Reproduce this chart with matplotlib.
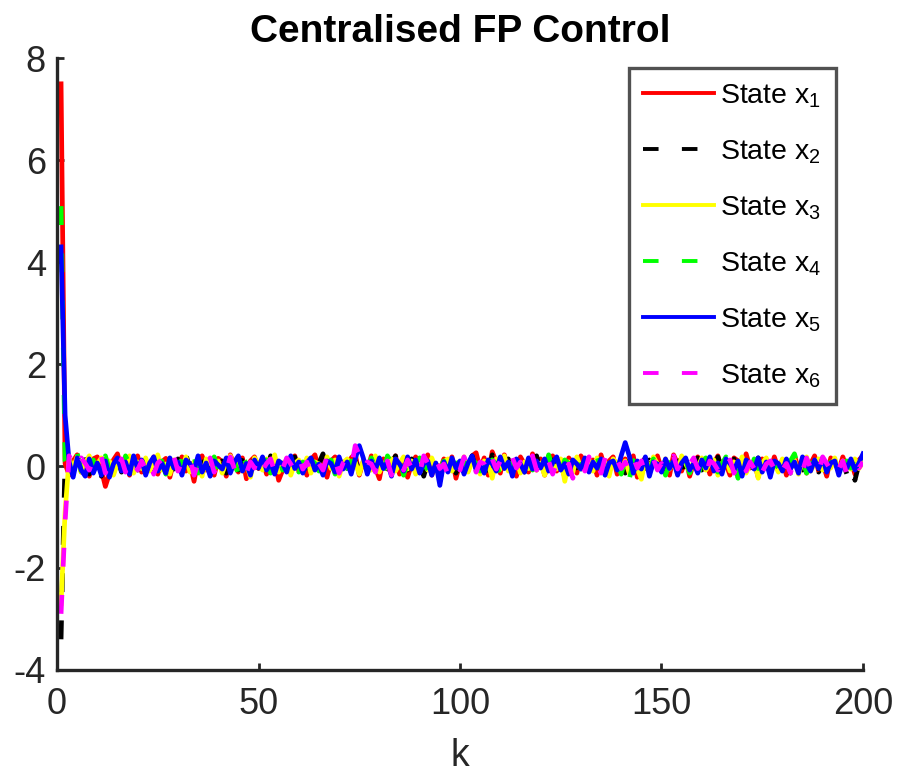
import numpy as np
import matplotlib
matplotlib.use('Agg')
import matplotlib.pyplot as plt

# 各状态的轨迹（k = 1..200）
x1 = [7.50, 0.05, -0.18, 0.10, 0.22, -0.12, 0.06, -0.20, 0.14, 0.18, -0.08, -0.40, -0.15, 0.12, 0.24, -0.06, 0.16, -0.18, 0.04, 0.20,
      -0.12, 0.10, -0.05, 0.18, -0.16, 0.08, 0.15, -0.22, 0.10, -0.06, 0.18, -0.10, 0.05, -0.30, 0.12, 0.20, -0.08, 0.06, -0.18, 0.15,
      0.08, -0.20, 0.22, 0.02, -0.12, 0.16, -0.25, 0.10, 0.18, -0.05, 0.12, -0.16, 0.04, 0.10, -0.28, -0.08, 0.14, -0.04, 0.20, -0.10,
      0.06, -0.18, 0.12, 0.22, -0.08, 0.04, -0.22, 0.10, 0.18, -0.14, 0.08, -0.05, 0.16, 0.24, -0.18, 0.10, -0.10, 0.20, -0.04, -0.25,
      0.14, -0.06, 0.05, 0.20, -0.16, 0.10, -0.22, 0.04, 0.18, -0.12, 0.08, 0.22, -0.18, 0.05, -0.08, 0.14, -0.04, 0.18, -0.24, 0.06,
      0.12, -0.10, 0.20, 0.26, -0.06, 0.16, -0.18, 0.28, 0.08, -0.14, 0.22, -0.05, 0.10, -0.20, 0.18, 0.04, -0.12, 0.24, -0.08, 0.14,
      -0.18, 0.06, 0.20, -0.10, 0.05, -0.22, 0.16, 0.04, -0.14, 0.20, 0.08, -0.05, 0.12, -0.18, 0.22, -0.04, 0.10, 0.18, -0.16, 0.05,
      0.14, -0.08, 0.20, -0.22, 0.06, 0.16, -0.12, 0.04, 0.20, -0.06, 0.10, -0.18, 0.22, 0.05, -0.10, 0.14, -0.20, 0.08, 0.18, -0.05,
      0.12, -0.16, 0.06, 0.20, -0.08, 0.04, -0.18, 0.16, 0.10, -0.12, 0.24, -0.04, 0.08, -0.22, 0.14, 0.05, -0.10, 0.18, -0.06, 0.12,
      -0.18, 0.08, 0.20, -0.05, 0.14, -0.14, 0.04, 0.20, -0.10, 0.06, -0.20, 0.16, 0.05, -0.08, 0.18, -0.04, 0.10, -0.16, 0.12, 0.20]

x2 = [-3.40, 0.18, 0.06, -0.10, 0.14, -0.04, 0.20, -0.16, 0.08, 0.05, -0.20, 0.12, -0.06, 0.04, 0.16, -0.12, 0.10, -0.05, 0.18, -0.08,
      0.06, 0.22, -0.14, 0.05, 0.10, -0.18, 0.08, 0.02, -0.06, 0.14, -0.10, 0.22, -0.04, 0.08, -0.16, 0.12, 0.04, -0.08, 0.18, -0.05,
      0.10, -0.14, 0.26, 0.05, -0.08, 0.16, -0.20, 0.06, 0.12, -0.04, 0.08, -0.12, 0.20, 0.04, -0.10, 0.14, -0.06, 0.05, 0.18, -0.16,
      0.08, -0.04, 0.14, -0.20, 0.06, 0.24, -0.10, 0.04, 0.16, -0.08, 0.12, -0.18, 0.05, 0.10, -0.06, 0.20, -0.14, 0.08, 0.02, -0.05,
      0.16, -0.10, 0.06, 0.20, -0.12, 0.05, -0.08, 0.14, -0.04, 0.10, -0.20, 0.08, 0.18, -0.06, -0.30, 0.12, -0.05, 0.16, -0.14, 0.06,
      0.04, -0.10, 0.20, -0.05, 0.12, 0.06, -0.16, 0.22, -0.08, 0.10, -0.04, 0.14, -0.18, 0.08, 0.05, -0.12, 0.16, -0.06, 0.20, -0.10,
      0.06, -0.14, 0.12, 0.04, -0.08, 0.18, -0.05, 0.10, -0.16, 0.08, 0.14, -0.06, 0.05, -0.12, 0.20, 0.04, -0.10, 0.16, -0.04, 0.08,
      -0.14, 0.10, 0.05, -0.08, 0.18, -0.05, 0.12, -0.16, 0.06, 0.04, -0.10, 0.22, -0.06, 0.08, 0.14, -0.12, 0.05, -0.04, 0.16, -0.08,
      0.10, 0.05, -0.14, 0.18, -0.06, 0.08, -0.04, 0.14, -0.18, 0.06, 0.12, -0.08, 0.04, 0.16, -0.10, 0.20, -0.05, 0.08, 0.24, -0.06,
      0.12, -0.14, 0.05, 0.18, -0.08, 0.10, -0.04, 0.16, -0.12, 0.06, 0.04, -0.10, 0.14, -0.05, 0.08, -0.16, 0.06, -0.28, 0.04, 0.20]

x3 = [-2.70, -0.90, 0.14, -0.04, 0.18, -0.12, 0.06, 0.20, -0.10, 0.04, 0.16, -0.06, 0.10, -0.18, 0.05, 0.12, -0.04, 0.20, -0.14, 0.08,
      -0.05, 0.16, -0.10, 0.06, 0.22, -0.08, 0.04, -0.16, 0.12, 0.05, -0.06, 0.18, -0.12, 0.08, 0.02, -0.20, 0.14, 0.06, -0.05, 0.10,
      -0.14, 0.08, 0.20, -0.04, 0.12, -0.10, 0.05, -0.22, 0.16, 0.04, -0.08, 0.14, -0.05, 0.22, -0.12, 0.06, 0.10, -0.18, 0.05, 0.12,
      -0.06, 0.16, -0.14, 0.08, 0.04, -0.10, 0.18, -0.05, 0.12, -0.20, 0.06, 0.14, -0.04, 0.08, -0.16, 0.10, 0.05, -0.08, 0.20, -0.12,
      0.06, -0.04, 0.14, -0.10, 0.05, 0.18, -0.06, 0.10, -0.16, 0.04, 0.12, -0.08, 0.16, -0.05, -0.22, 0.08, 0.14, -0.10, 0.06, -0.04,
      0.18, -0.12, 0.08, 0.05, -0.16, 0.10, 0.04, -0.24, 0.14, -0.06, 0.20, -0.10, 0.05, 0.12, -0.14, 0.08, -0.05, 0.16, -0.08, 0.06,
      -0.18, 0.10, 0.04, -0.06, 0.14, -0.30, 0.08, -0.12, 0.18, -0.04, 0.06, 0.12, -0.10, 0.16, -0.05, 0.08, -0.20, 0.14, 0.05, -0.08,
      0.10, -0.14, 0.06, -0.05, -0.26, 0.12, -0.08, 0.18, 0.04, -0.10, 0.14, -0.06, 0.08, -0.16, 0.20, 0.05, -0.12, 0.10, -0.04, 0.16,
      -0.08, 0.06, 0.12, -0.18, 0.05, 0.14, -0.10, 0.08, -0.05, 0.18, -0.14, 0.04, 0.10, -0.24, 0.06, 0.16, -0.08, 0.05, -0.12, 0.14,
      0.04, -0.06, 0.12, -0.16, 0.08, 0.18, -0.10, 0.05, 0.14, -0.08, 0.06, -0.04, 0.16, -0.12, 0.10, 0.05, -0.06, 0.14, -0.05, 0.08]

x4 = [5.10, 0.10, -0.06, 0.16, 0.26, -0.10, 0.22, -0.05, 0.12, -0.18, 0.08, 0.20, -0.08, 0.05, 0.14, -0.14, 0.20, 0.04, -0.06, 0.10,
      0.16, -0.12, 0.06, 0.18, -0.05, 0.10, -0.16, 0.22, 0.04, -0.08, 0.14, -0.04, 0.08, 0.20, -0.14, 0.05, 0.12, -0.06, 0.18, -0.10,
      0.06, 0.14, -0.05, 0.10, -0.18, 0.20, 0.04, -0.10, 0.16, -0.06, 0.08, 0.12, -0.14, 0.05, 0.20, -0.08, 0.10, -0.04, 0.16, -0.12,
      0.08, -0.20, 0.14, 0.05, -0.10, 0.18, -0.06, 0.12, -0.16, 0.06, 0.20, -0.05, 0.10, -0.14, 0.08, 0.04, -0.08, 0.16, -0.04, 0.10,
      -0.12, 0.20, 0.06, -0.06, 0.14, -0.18, 0.08, 0.04, -0.10, 0.16, 0.05, -0.08, 0.12, 0.22, -0.05, 0.10, -0.14, 0.06, 0.18, -0.04,
      0.08, -0.16, 0.14, 0.05, -0.10, 0.20, -0.06, 0.12, 0.04, -0.20, 0.10, 0.16, -0.05, 0.08, -0.12, 0.06, 0.18, -0.08, 0.05, 0.14,
      -0.10, 0.22, -0.04, 0.08, -0.14, 0.12, 0.05, -0.18, 0.16, -0.06, 0.10, 0.04, -0.12, 0.18, -0.05, 0.08, 0.14, -0.10, 0.06, -0.16,
      0.12, -0.26, 0.08, 0.18, -0.06, 0.05, -0.12, 0.14, -0.04, 0.10, -0.18, 0.06, 0.16, -0.08, 0.04, 0.12, -0.14, 0.08, -0.20, 0.05,
      0.16, -0.06, 0.10, -0.12, 0.04, 0.18, -0.08, 0.06, -0.24, 0.12, 0.05, -0.10, 0.14, -0.05, 0.08, 0.20, -0.12, 0.06, -0.04, 0.16,
      -0.08, 0.10, 0.24, -0.05, 0.12, -0.14, 0.06, 0.04, -0.10, 0.18, -0.06, 0.08, 0.14, -0.12, 0.05, 0.10, -0.04, 0.16, -0.08, 0.06]

x5 = [4.30, 1.00, 0.08, -0.22, 0.16, -0.08, -0.20, 0.14, -0.14, 0.06, -0.18, 0.10, -0.22, 0.04, 0.16, -0.10, 0.08, -0.16, 0.20, -0.05,
      0.12, -0.18, 0.06, 0.18, -0.10, 0.05, -0.14, 0.16, -0.04, 0.08, -0.18, 0.12, 0.04, -0.08, 0.20, -0.12, 0.06, -0.20, 0.10, 0.02,
      -0.06, 0.16, -0.14, 0.08, 0.20, -0.10, 0.05, -0.18, 0.12, -0.04, 0.18, -0.08, 0.06, -0.16, 0.10, 0.04, -0.12, 0.20, -0.05, 0.08,
      -0.14, 0.06, 0.16, -0.08, 0.04, -0.18, 0.10, 0.05, -0.12, 0.18, -0.06, 0.08, -0.16, 0.14, 0.40, 0.16, -0.16, 0.10, -0.08, 0.16,
      -0.05, 0.08, -0.20, 0.14, 0.04, -0.10, 0.18, -0.06, 0.12, -0.14, 0.05, 0.10, -0.18, 0.06, -0.38, 0.08, -0.12, 0.16, -0.04, 0.10,
      -0.16, 0.06, 0.20, -0.08, 0.05, -0.14, 0.12, 0.04, -0.10, 0.18, -0.05, 0.08, -0.20, 0.14, 0.04, -0.12, 0.16, -0.06, 0.10, -0.04,
      0.14, -0.10, 0.06, 0.18, -0.08, 0.05, -0.16, 0.12, 0.04, -0.06, 0.16, -0.12, 0.08, -0.04, 0.14, -0.18, 0.06, 0.10, -0.08, 0.20,
      0.46, 0.20, -0.14, 0.10, -0.06, 0.18, -0.20, 0.08, 0.04, -0.12, 0.14, -0.05, 0.10, -0.18, 0.06, 0.16, -0.08, 0.05, -0.14, 0.12,
      -0.04, 0.18, -0.10, 0.06, -0.16, 0.14, 0.05, -0.08, 0.10, -0.20, 0.12, 0.04, -0.06, 0.16, -0.12, 0.08, -0.22, 0.10, 0.05, -0.10,
      0.14, -0.06, 0.08, -0.14, 0.18, 0.04, -0.10, 0.12, -0.05, 0.16, -0.12, 0.06, 0.10, -0.18, 0.08, -0.04, 0.14, -0.08, 0.06, 0.24]

x6 = [-2.90, -1.10, 0.20, 0.06, -0.10, 0.16, 0.05, -0.08, 0.12, -0.04, 0.18, -0.14, 0.08, 0.04, -0.06, 0.14, -0.12, 0.20, 0.05, -0.08,
      0.10, -0.05, 0.16, -0.16, 0.06, 0.12, -0.08, 0.04, 0.18, -0.10, 0.08, -0.04, 0.14, -0.18, 0.05, 0.10, -0.06, 0.16, -0.12, 0.06,
      0.04, -0.10, 0.18, -0.05, 0.12, 0.06, -0.14, 0.08, -0.04, 0.20, -0.08, 0.05, 0.14, -0.12, 0.10, -0.05, 0.16, 0.04, -0.10, 0.18,
      -0.06, 0.08, -0.16, 0.12, 0.05, -0.08, 0.18, -0.04, 0.10, -0.14, 0.06, 0.16, -0.05, 0.40, 0.22, -0.10, 0.08, 0.04, -0.12, 0.14,
      -0.06, 0.10, -0.18, 0.05, 0.16, -0.08, 0.12, -0.04, 0.08, -0.14, 0.20, 0.06, -0.10, 0.14, -0.05, 0.04, -0.16, 0.10, 0.06, -0.08,
      0.18, -0.05, 0.12, -0.12, 0.08, 0.04, -0.18, 0.14, -0.06, 0.10, 0.05, -0.10, 0.16, -0.04, 0.08, -0.14, 0.06, 0.20, -0.08, 0.12,
      -0.05, 0.10, -0.16, 0.06, 0.14, -0.08, 0.04, -0.24, 0.12, 0.05, -0.10, 0.18, -0.06, 0.08, -0.14, 0.16, 0.04, -0.08, 0.12, -0.05,
      0.08, -0.12, 0.18, -0.04, 0.10, -0.16, 0.06, 0.14, -0.08, 0.05, -0.14, 0.10, 0.20, -0.06, 0.12, -0.10, 0.04, 0.16, -0.05, 0.08,
      -0.18, 0.10, 0.05, -0.08, 0.14, -0.04, 0.12, -0.14, 0.06, 0.18, -0.10, 0.08, -0.05, 0.16, -0.12, 0.04, 0.10, -0.06, 0.14, -0.08,
      0.05, -0.14, 0.12, 0.06, -0.10, 0.16, -0.04, 0.08, -0.12, 0.18, 0.05, -0.08, 0.14, -0.05, 0.10, -0.16, 0.06, 0.12, -0.04, 0.08]

labels = ['State x$_{1}$', 'State x$_{2}$', 'State x$_{3}$',
          'State x$_{4}$', 'State x$_{5}$', 'State x$_{6}$']
colors = ['#ff0000', '#000000', '#ffff00', '#00ff00', '#0000ff', '#ff00ff']
styles = ['-', '--', '-', '--', '-', '--']

plt.rcParams['font.family'] = ['Liberation Sans', 'DejaVu Sans']
plt.rcParams['mathtext.default'] = 'regular'
plt.rcParams['axes.unicode_minus'] = False

fig = plt.figure(figsize=(8.98, 7.78), dpi=100)
ax = fig.add_axes([0.0635, 0.139, 0.8975, 0.786])

for y, c, ls, lab in zip([x1, x2, x3, x4, x5, x6], colors, styles, labels):
    k = np.arange(1, len(y) + 1)
    line, = ax.plot(k, y, color=c, linewidth=3.4, label=lab, solid_joinstyle='round')
    if ls == '--':
        line.set_dashes((4, 6))

ax.set_xlim(0, 200)
ax.set_ylim(-4, 8)
ax.set_xticks([0, 50, 100, 150, 200])
ax.set_yticks([-4, -2, 0, 2, 4, 6, 8])
ax.spines['top'].set_visible(False)
ax.spines['right'].set_visible(False)
for s in ['left', 'bottom']:
    ax.spines[s].set_linewidth(2.4)
    ax.spines[s].set_color('#262626')
ax.tick_params(direction='in', length=5, width=2, colors='#262626',
               labelsize=26, labelcolor='#262626')
ax.tick_params(axis='x', pad=12)
ax.tick_params(axis='y', pad=8)
ax.set_xlabel('k', fontsize=27, color='#262626', labelpad=12)
ax.set_title('Centralised FP Control', fontsize=28, fontweight='bold', pad=12)

leg = ax.legend(loc='upper right', bbox_to_anchor=(0.966, 0.984), fontsize=20.5,
                frameon=True, fancybox=False, handlelength=2.5, handletextpad=0.2,
                labelspacing=1.0, borderpad=0.5, borderaxespad=0)
leg.get_frame().set_edgecolor('#262626')
leg.get_frame().set_linewidth(2.4)
for h in leg.get_lines():
    h.set_linewidth(2.8)

plt.savefig('out.png', dpi=100)
